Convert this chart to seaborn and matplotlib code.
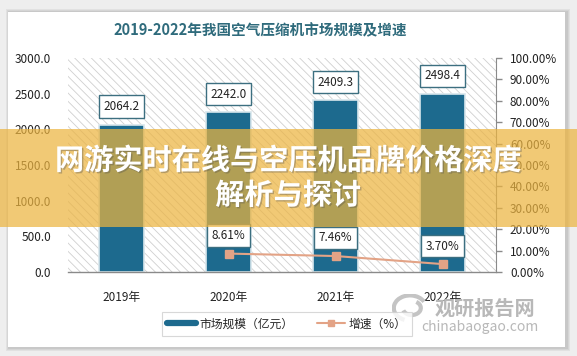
"""
Air compressor market size and growth, 2019-2022
"""

import matplotlib
matplotlib.use('Agg')
import matplotlib.pyplot as plt
import matplotlib.patheffects as pe
from matplotlib.patches import Rectangle, Arc
from matplotlib.lines import Line2D
from matplotlib.ticker import FuncFormatter, MultipleLocator
import seaborn as sns
import pandas as pd

years = ['2019年', '2020年', '2021年', '2022年']
market_size = [2064.2, 2242.0, 2409.3, 2498.4]
growth_years = ['2020年', '2021年', '2022年']
growth_rate = [8.61, 7.46, 3.70]

title = '2019-2022年我国空气压缩机市场规模及增速'
banner = '网游实时在线与空压机品牌价格深度\n解析与探讨'

bar_color = '#1d6a8e'
line_color = '#e3a386'
box_edge = '#3c6f80'

sns.set_style('white')
plt.rcParams['font.family'] = ['Noto Sans CJK SC', 'DejaVu Sans']
plt.rcParams['hatch.linewidth'] = 0.6
plt.rcParams['hatch.color'] = '#cfcfcf'

W, H = 577, 356
fig = plt.figure(figsize=(W / 100, H / 100), dpi=100, facecolor='#eeeeee')

# card with a soft shadow
for i, a in enumerate([0.05, 0.05, 0.06]):
    fig.patches.append(Rectangle(((8 - 2 + i) / W, 1 - (348 + 3 - i) / H),
                                 (560 + 4 - 2 * i) / W, (338 + 4 - 2 * i) / H,
                                 transform=fig.transFigure, facecolor='black',
                                 alpha=a, edgecolor='none', zorder=-5))
fig.patches.append(Rectangle((8 / W, 1 - 347 / H), 557 / W, 335 / H,
                             transform=fig.transFigure, facecolor='white',
                             edgecolor='none', zorder=-4))

ax = fig.add_axes([68 / W, 1 - 272 / H, 428 / W, 214 / H])
ax.set_facecolor('none')
ax.add_patch(Rectangle((0, 0), 1, 1, transform=ax.transAxes, facecolor='white',
                       edgecolor='#cfcfcf', hatch='\\\\\\\\', lw=0, zorder=0))

df = pd.DataFrame({'year': years, 'size': market_size})
sns.barplot(data=df, x='year', y='size', order=years, color=bar_color,
            saturation=1, width=0.42, ax=ax, zorder=2)
for p in ax.patches[1:]:
    p.set_edgecolor('#d8e6ec')
    p.set_linewidth(1.2)

ax.set_xlim(-0.5, len(years) - 0.5)
ax.set_ylim(0, 3000)
ax.yaxis.set_major_locator(MultipleLocator(500))
ax.yaxis.set_major_formatter(FuncFormatter(lambda v, _: f'{v:.1f}'))
ax.set_xlabel('')
ax.set_ylabel('')
ax.tick_params(axis='y', length=0, labelsize=8.5, pad=12, colors='#222222')
ax.tick_params(axis='x', length=0, labelsize=8.5, pad=14, colors='#222222')
for s in ['left', 'right', 'top']:
    ax.spines[s].set_visible(False)
ax.spines['bottom'].set_color('#8a8a8a')
ax.spines['bottom'].set_linewidth(1)

box = dict(boxstyle='square,pad=0.4', facecolor='white', edgecolor=box_edge, lw=1)
for i, v in enumerate(market_size):
    ax.annotate(f'{v:.1f}', (i, v), xytext=(0, 13), textcoords='offset points',
                ha='center', va='center', fontsize=8.5, color='#222222',
                bbox=box, zorder=5)

ax2 = ax.twinx()
ax2.set_position(ax.get_position())
gx = [years.index(y) for y in growth_years]
ax2.plot(gx, growth_rate, color=line_color, lw=1.5, marker='s', ms=6,
         markeredgecolor=line_color, zorder=4)
ax2.set_ylim(0, 100)
ax2.yaxis.set_major_locator(MultipleLocator(10))
ax2.yaxis.set_major_formatter(FuncFormatter(lambda v, _: f'{v:.2f}%'))
ax2.tick_params(axis='y', length=4, width=1, labelsize=8.5, pad=6,
                colors='#222222')
ax2.tick_params(axis='y', color='#8a8a8a')
for s in ['left', 'top', 'bottom']:
    ax2.spines[s].set_visible(False)
ax2.spines['right'].set_color('#8a8a8a')
for x, v in zip(gx, growth_rate):
    ax2.annotate(f'{v:.2f}%', (x, v), xytext=(0, 13), textcoords='offset points',
                 ha='center', va='center', fontsize=8.5, color='#222222',
                 bbox=box, zorder=5)

fig.text(260 / W, 1 - 30 / H, title, ha='center', va='center', fontsize=10.5,
         fontweight='bold', color='#2f6b7c')

handles = [Line2D([], [], color=bar_color, lw=4.5),
           Line2D([], [], color=line_color, lw=1.5, marker='s', ms=5)]
leg = fig.legend(handles, ['市场规模（亿元）', '增速（%）'], loc='center',
                 bbox_to_anchor=(287 / W, 1 - 324 / H), ncol=2, fontsize=8.5,
                 frameon=True, fancybox=False, edgecolor='#cfcfcf',
                 handlelength=2.4, handletextpad=0.3, columnspacing=2.0,
                 borderpad=0.45)
leg.get_frame().set_linewidth(0.8)

# watermark
logo = fig.add_axes([392 / W, 1 - 322 / H, 36 / W, 28 / H])
logo.axis('off')
logo.set_xlim(-1, 1)
logo.set_ylim(-1, 1)
logo.add_patch(Arc((0, 0), 1.8, 1.8, theta1=30, theta2=250, color='#c4c4c4', lw=3))
logo.add_patch(Arc((0.1, 0), 1.0, 1.0, theta1=200, theta2=60, color='#c4c4c4', lw=3))
fig.text(485 / W, 1 - 308 / H, '观研报告网', ha='center', va='center',
         fontsize=14.5, fontweight='bold', color='#b8b8b8')
fig.text(480 / W, 1 - 327 / H, 'chinabaogao.com', ha='center', va='center',
         fontsize=10, color='#b8b8b8')

# overlay banner
fig.patches.append(Rectangle((0, 1 - 227 / H), 1, 98 / H, transform=fig.transFigure,
                             facecolor='#ecb440', alpha=0.72, edgecolor='none',
                             zorder=10))
fig.text(288 / W, 1 - 178 / H, banner, ha='center', va='center', fontsize=21,
         fontweight='bold', color='white', linespacing=1.2, zorder=11,
         path_effects=[pe.withSimplePatchShadow(offset=(1, -1), alpha=0.35)])

fig.savefig('out.png', dpi=100, facecolor=fig.get_facecolor())
